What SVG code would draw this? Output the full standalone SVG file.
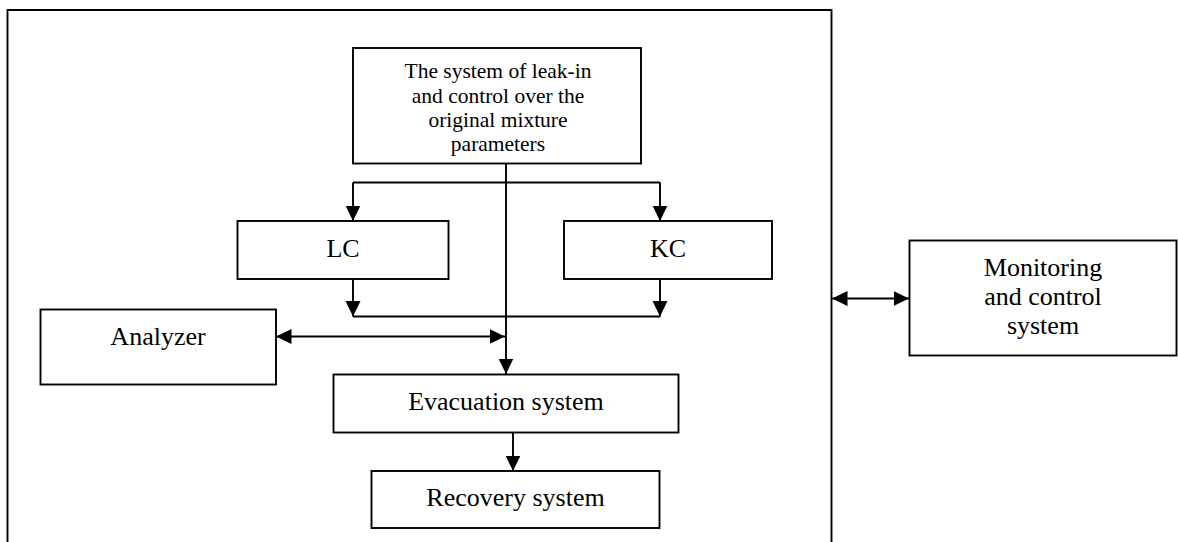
<svg xmlns="http://www.w3.org/2000/svg" width="1178" height="542" viewBox="0 0 1178 542">
<style>
.box{fill:#fff;stroke:#000;stroke-width:1.9}
.ln{fill:none;stroke:#000;stroke-width:1.9}
.t{font-family:"Liberation Serif","Times New Roman",serif;font-size:26px;fill:#000;text-anchor:middle}
.ts{font-family:"Liberation Serif","Times New Roman",serif;font-size:21.5px;fill:#000;text-anchor:middle}
</style>
<defs>
<marker id="ah" markerUnits="userSpaceOnUse" markerWidth="17" markerHeight="16" refX="15.5" refY="7.5" orient="auto">
<path d="M0,0 L15.5,7.5 L0,15 z" fill="#000"/>
</marker>
<marker id="as" markerUnits="userSpaceOnUse" markerWidth="17" markerHeight="16" refX="0" refY="7.5" orient="auto">
<path d="M15.5,0 L0,7.5 L15.5,15 z" fill="#000"/>
</marker>
</defs>
<rect width="1178" height="542" fill="#fff"/>
<g id="frame">
<path class="ln" d="M7.5,542 V10 H831.5 V542" stroke-width="2.2"/>
</g>
<g id="connectors">
<path class="ln" d="M506,163.5 V374" marker-end="url(#ah)"/>
<path class="ln" d="M353,182.5 H660"/>
<path class="ln" d="M353,182.5 V221" marker-end="url(#ah)"/>
<path class="ln" d="M660,182.5 V221" marker-end="url(#ah)"/>
<path class="ln" d="M353,279 V316.5" marker-end="url(#ah)"/>
<path class="ln" d="M660,279 V316.5" marker-end="url(#ah)"/>
<path class="ln" d="M353,316.5 H660"/>
<path class="ln" d="M276,336.5 H505" marker-start="url(#as)" marker-end="url(#ah)"/>
<path class="ln" d="M513,432.5 V471" marker-end="url(#ah)"/>
<path class="ln" d="M832,298.5 H909" marker-start="url(#as)" marker-end="url(#ah)"/>
</g>
<g id="top">
<rect class="box" x="353" y="48" width="288" height="115.5"/>
<text class="ts" x="498" y="78">The system of leak-in</text>
<text class="ts" x="498" y="102.5">and control over the</text>
<text class="ts" x="498" y="126.5">original mixture</text>
<text class="ts" x="498" y="151">parameters</text>
</g>
<g id="lc">
<rect class="box" x="237.5" y="221" width="211" height="58"/>
<text class="t" x="343" y="257">LC</text>
</g>
<g id="kc">
<rect class="box" x="564" y="221" width="208" height="58"/>
<text class="t" x="668" y="257">KC</text>
</g>
<g id="analyzer">
<rect class="box" x="40.5" y="309.5" width="235.5" height="75"/>
<text class="t" x="158" y="345">Analyzer</text>
</g>
<g id="evacuation">
<rect class="box" x="333.5" y="374.5" width="345" height="58"/>
<text class="t" x="506" y="410">Evacuation system</text>
</g>
<g id="recovery">
<rect class="box" x="371.5" y="471" width="288" height="57"/>
<text class="t" x="515.5" y="506">Recovery system</text>
</g>
<g id="monitoring">
<rect class="box" x="909.5" y="240.5" width="267" height="115"/>
<text class="t" x="1043" y="275.5">Monitoring</text>
<text class="t" x="1043" y="305">and control</text>
<text class="t" x="1043" y="334">system</text>
</g>
</svg>
